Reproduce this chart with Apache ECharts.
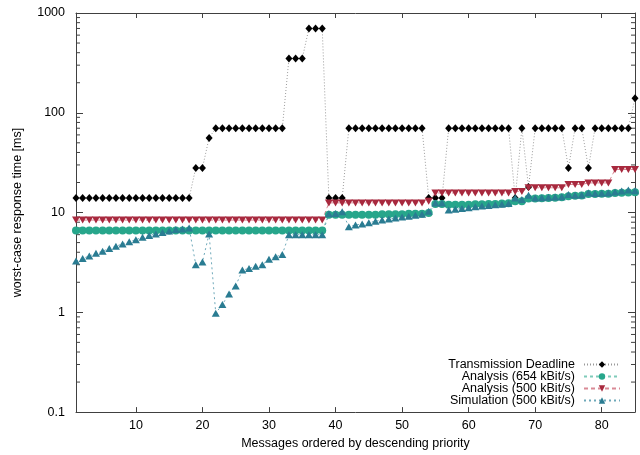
<!DOCTYPE html>
<html>
<head>
<meta charset="utf-8">
<script src="https://cdn.jsdelivr.net/npm/echarts@6/dist/echarts.min.js"></script>
<style>
  html, body { margin: 0; padding: 0; background: #fff; }
  #main { width: 640px; height: 455px; }
</style>
</head>
<body>
<div id="main"></div>
<script>
// messages 1..85, ordered by descending priority
const messageIds = Array.from({ length: 85 }, (_, i) => i + 1);

const deadline = [
    14, 14, 14, 14, 14, 14, 14, 14, 14, 14, 14, 14, 14, 14, 14, 14, 14, 14,
    28, 28, 56,
    70, 70, 70, 70, 70, 70, 70, 70, 70, 70, 70,
    350, 350, 350, 700, 700, 700,
    14, 14, 14,
    70, 70, 70, 70, 70, 70, 70, 70, 70, 70, 70, 70,
    14, 14, 14,
    70, 70, 70, 70, 70, 70, 70, 70, 70, 70,
    14, 70, 18,
    70, 70, 70, 70, 70,
    28, 70, 70, 28,
    70, 70, 70, 70, 70, 70,
    140
];

const analysis654 = [
    6.6, 6.6, 6.6, 6.6, 6.6, 6.6, 6.6, 6.6, 6.6, 6.6, 6.6, 6.6, 6.6, 6.6, 6.6, 6.6, 6.6, 6.6, 6.6,
    6.6, 6.6, 6.6, 6.6, 6.6, 6.6, 6.6, 6.6, 6.6, 6.6, 6.6, 6.6, 6.6, 6.6, 6.6, 6.6, 6.6, 6.6, 6.6,
    9.5, 9.5, 9.5,
    9.5, 9.5, 9.5, 9.5, 9.5, 9.6, 9.6, 9.6, 9.6, 9.7, 9.7, 9.7,
    9.9, 12.2, 12.2,
    12.0, 12.0, 12.0, 12.0, 12.1, 12.1, 12.2, 12.2, 12.3, 12.4,
    13.0, 13.0,
    13.8, 13.8, 13.9, 14.0, 14.1, 14.2,
    14.6, 14.7, 14.8,
    15.3, 15.3, 15.4, 15.4,
    15.7, 15.8, 15.9, 16.0
];

const analysis500 = [
    8.4, 8.4, 8.4, 8.4, 8.4, 8.4, 8.4, 8.4, 8.4, 8.4, 8.4, 8.4, 8.4, 8.4, 8.4, 8.4, 8.4, 8.4, 8.4,
    8.4, 8.4, 8.4, 8.4, 8.4, 8.4, 8.4, 8.4, 8.4, 8.4, 8.4, 8.4, 8.4, 8.4, 8.4, 8.4, 8.4, 8.4, 8.4,
    12.5, 12.5, 12.5, 12.5, 12.5, 12.5, 12.5, 12.5, 12.5, 12.5, 12.5, 12.5, 12.5, 12.5, 12.5,
    13,
    15.7, 15.7, 15.7, 15.7, 15.7, 15.7, 15.7, 15.7, 15.7, 15.7, 15.7, 15.7,
    16.3, 16.3,
    17.7, 17.7, 17.7, 17.7, 17.7, 17.7,
    19.1, 19.1, 19.1,
    19.8, 19.8, 19.8, 19.8,
    27, 27, 27, 27
];

const simulation500 = [
    3.26, 3.47, 3.67, 3.9, 4.1, 4.37, 4.6, 4.85, 5.1, 5.35, 5.65, 5.9, 6.1, 6.3, 6.55, 6.75, 6.85, 7.0,
    3.0, 3.2, 6.1,
    0.98, 1.2, 1.53, 1.84, 2.65, 2.75, 2.9, 3.0, 3.4, 3.6, 3.8,
    6.0, 6.0, 6.0, 6.0, 6.0, 6.0,
    9.7, 9.8, 10.2,
    7.2, 7.5, 7.7, 7.9, 8.2, 8.4, 8.6, 8.8, 9.0, 9.2, 9.4, 9.6,
    10.3, 12.5, 12.5,
    10.6, 10.8, 11.0, 11.2, 11.4, 11.6, 11.8, 12.0, 12.1, 12.3,
    14.0, 13.5, 14.9,
    14.0, 14.1, 14.2, 14.3, 14.4,
    15.2, 14.9, 15.0, 15.8,
    15.5, 15.6, 15.7, 16.1, 16.4, 16.8,
    16.5
];

const xTicks = [10, 20, 30, 40, 50, 60, 70, 80];
const yMinorTicks = [
    0.2, 0.3, 0.4, 0.5, 0.6, 0.7, 0.8, 0.9,
    2, 3, 4, 5, 6, 7, 8, 9,
    20, 30, 40, 50, 60, 70, 80, 90,
    200, 300, 400, 500, 600, 700, 800, 900
];

const seriesNames = [
    'Transmission Deadline',
    'Analysis (654 kBit/s)',
    'Analysis (500 kBit/s)',
    'Simulation (500 kBit/s)'
];

function pairs(values) {
    return values.map((v, i) => [messageIds[i], v]);
}

const chartDom = document.getElementById('main');
let myChart = echarts.init(chartDom, null, { renderer: 'canvas' });
let option;

const font = 'Liberation Sans, Arial, sans-serif';
const axisColor = '#404040';

option = {
    animation: false,
    textStyle: { fontFamily: font },
    grid: {
        left: 76,
        right: 5,
        top: 13,
        bottom: 42
    },
    legend: {
        data: seriesNames,
        orient: 'vertical',
        align: 'right',
        right: 14,
        bottom: 43,
        itemWidth: 36,
        itemHeight: 8,
        itemGap: -1,
        selectedMode: false,
        textStyle: {
            fontSize: 12.5,
            color: '#000',
            fontFamily: font,
            lineHeight: 10,
            padding: [0, 4, 0, 0]
        }
    },
    xAxis: [
        {
            type: 'value',
            min: 1,
            max: 85,
            name: 'Messages ordered by descending priority',
            nameLocation: 'middle',
            nameGap: 22,
            nameTextStyle: { fontSize: 12.5, color: '#000', fontFamily: font },
            axisLine: { lineStyle: { color: axisColor } },
            axisTick: { inside: true, length: 5, customValues: xTicks, lineStyle: { color: axisColor } },
            axisLabel: { customValues: xTicks, fontSize: 12.5, color: '#000', margin: 7 },
            splitLine: { show: false }
        },
        {
            type: 'value',
            position: 'top',
            min: 1,
            max: 85,
            axisLine: { show: true, lineStyle: { color: axisColor } },
            axisTick: { inside: true, length: 5, customValues: xTicks, lineStyle: { color: axisColor } },
            axisLabel: { show: false },
            splitLine: { show: false }
        }
    ],
    yAxis: [
        {
            type: 'log',
            logBase: 10,
            min: 0.1,
            max: 1000,
            splitNumber: 4,
            name: 'worst-case response time [ms]',
            nameLocation: 'middle',
            nameGap: 52,
            nameTextStyle: { fontSize: 12.5, color: '#000', fontFamily: font },
            axisLine: { show: true, lineStyle: { color: axisColor } },
            axisTick: { inside: true, length: 7, lineStyle: { color: axisColor } },
            axisLabel: {
                fontSize: 12.5,
                color: '#000',
                margin: 11,
                formatter: function (v) {
                    return String(+Number(v).toPrecision(3));
                }
            },
            splitLine: { show: false }
        },
        {
            type: 'log',
            logBase: 10,
            min: 0.1,
            max: 1000,
            splitNumber: 4,
            position: 'right',
            axisLine: { show: true, lineStyle: { color: axisColor } },
            axisTick: { inside: true, length: 7, lineStyle: { color: axisColor } },
            axisLabel: { show: false },
            splitLine: { show: false }
        }
    ],
    series: [
        {
            // minor log ticks on left and right borders
            type: 'custom',
            silent: true,
            z: 1,
            data: yMinorTicks.map(v => [1, v]),
            renderItem: function (params, api) {
                const v = api.value(1);
                const l = api.coord([1, v]);
                const r = api.coord([85, v]);
                const style = { stroke: axisColor, lineWidth: 1 };
                return {
                    type: 'group',
                    children: [
                        { type: 'line', shape: { x1: l[0], y1: l[1], x2: l[0] + 4, y2: l[1] }, style: style },
                        { type: 'line', shape: { x1: r[0] - 4, y1: r[1], x2: r[0], y2: r[1] }, style: style }
                    ]
                };
            }
        },
        {
            name: seriesNames[0],
            type: 'line',
            data: pairs(deadline),
            symbol: 'diamond',
            symbolSize: [7, 8],
            itemStyle: { color: '#000' },
            lineStyle: { color: '#9a9a9a', width: 1, type: [1, 2] }
        },
        {
            name: seriesNames[1],
            type: 'line',
            data: pairs(analysis654),
            symbol: 'circle',
            symbolSize: 8,
            itemStyle: { color: '#27a68b' },
            lineStyle: { color: '#7fcbba', width: 1, type: [3, 3] }
        },
        {
            name: seriesNames[2],
            type: 'line',
            data: pairs(analysis500),
            symbol: 'triangle',
            symbolRotate: 180,
            symbolSize: [8, 7],
            itemStyle: { color: '#a8293e' },
            lineStyle: { color: '#d98a96', width: 1, type: [4, 3] }
        },
        {
            name: seriesNames[3],
            type: 'line',
            data: pairs(simulation500),
            symbol: 'triangle',
            symbolSize: [8, 7],
            itemStyle: { color: '#2a7c92' },
            lineStyle: { color: '#6fa9ba', width: 1, type: [2, 3] }
        }
    ]
};

option && myChart.setOption(option);
</script>
</body>
</html>
